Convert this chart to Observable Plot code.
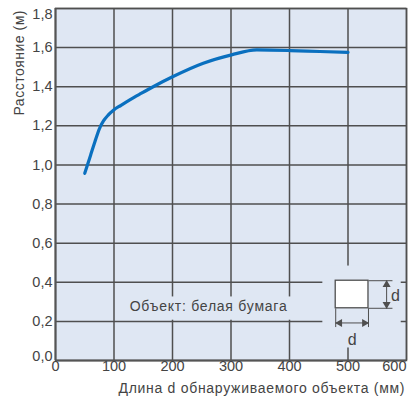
<!DOCTYPE html>
<html><head><meta charset="utf-8">
<script src="https://cdn.jsdelivr.net/npm/d3@7"></script>
<script src="https://cdn.jsdelivr.net/npm/@observablehq/plot@0.6"></script>
<style>body{margin:0;background:#fff}svg{display:block}</style>
</head><body><div id="chart"></div>
<script>
const lengthMm = [50, 60, 67.5, 75, 82, 90, 99, 112, 127, 147, 167, 201, 252.6, 301, 344, 401, 452, 500];
const distanceM = [0.957, 1.05, 1.12, 1.185, 1.225, 1.255, 1.28, 1.305, 1.333, 1.367, 1.40, 1.452, 1.52, 1.563, 1.588, 1.585, 1.58, 1.576];
const xTicks = [0, 100, 200, 300, 400, 500, 600];
const yTicks = [0, 0.2, 0.4, 0.6, 0.8, 1.0, 1.2, 1.4, 1.6, 1.8];
const xLabel = "Длина d обнаруживаемого объекта (мм)";
const yLabel = "Расстояние (м)";
const noteText = "Объект: белая бумага";
const dimLabel = "d";

const data = lengthMm.map((x, i) => ({x, y: distanceM[i]}));
const fmt = v => v.toFixed(1).replace(".", ",");
const bg = "#dfe7f3", grid = "#4f4f4f", ink = "#444";
const fs = 14.5;

// annotation geometry (data units)
const noteBox = {x1: 110, x2: 412, y1: 0.206, y2: 0.325};
const iconBox = {x1: 457, x2: 591, y1: 0.064, y2: 0.483};
const sq = {x1: 479, x2: 535, y1: 0.267, y2: 0.408};
const vArrowX = 566, extRight = 576, hArrowY = 0.192, extBottom = 0.171;

const chart = Plot.plot({
  width: 408, height: 401,
  marginLeft: 55, marginRight: 2, marginTop: 8, marginBottom: 41,
  x: {domain: [0, 600], axis: null},
  y: {domain: [0, 1.8], axis: null},
  style: {fontFamily: "Liberation Sans, Arial, sans-serif", fontSize: "14px", color: ink},
  marks: [
    Plot.frame({fill: bg}),
    Plot.ruleX(xTicks.slice(1), {stroke: grid, strokeWidth: 1.5}),
    Plot.ruleY(yTicks.slice(1), {stroke: grid, strokeWidth: 1.5}),
    Plot.rect([noteBox, iconBox], {x1: "x1", x2: "x2", y1: "y1", y2: "y2", fill: bg}),
    Plot.line(data, {x: "x", y: "y", stroke: "#0a70bf", strokeWidth: 3.2, curve: "monotone-x"}),
    Plot.text([noteText], {x: 261, y: 0.274, fill: ink, fontSize: 14}),
    // icon
    Plot.rect([sq], {x1: "x1", x2: "x2", y1: "y1", y2: "y2", fill: "white", stroke: grid, strokeWidth: 1.3}),
    Plot.link([
      {x1: sq.x2, y1: sq.y2, x2: extRight, y2: sq.y2},
      {x1: sq.x2, y1: sq.y1, x2: extRight, y2: sq.y1},
      {x1: sq.x1, y1: sq.y1, x2: sq.x1, y2: extBottom},
      {x1: sq.x2, y1: sq.y1, x2: sq.x2, y2: extBottom},
      {x1: vArrowX, y1: sq.y1, x2: vArrowX, y2: sq.y2},
      {x1: sq.x1, y1: hArrowY, x2: sq.x2, y2: hArrowY}
    ], {x1: "x1", y1: "y1", x2: "x2", y2: "y2", stroke: grid, strokeWidth: 1}),
    Plot.dot([{x: vArrowX, y: sq.y2}], {x: "x", y: "y", symbol: "triangle", r: 3, fill: grid, stroke: null, dy: 4}),
    Plot.dot([{x: vArrowX, y: sq.y1}], {x: "x", y: "y", symbol: "triangle", r: 3, fill: grid, stroke: null, dy: -4, rotate: 180}),
    Plot.dot([{x: sq.x1, y: hArrowY}], {x: "x", y: "y", symbol: "triangle", r: 3, fill: grid, stroke: null, dx: 4, rotate: -90}),
    Plot.dot([{x: sq.x2, y: hArrowY}], {x: "x", y: "y", symbol: "triangle", r: 3, fill: grid, stroke: null, dx: -4, rotate: 90}),
    Plot.text([dimLabel], {x: 581, y: 0.333, fill: ink, fontSize: 16}),
    Plot.text([dimLabel], {x: 507, y: 0.105, fill: ink, fontSize: 16}),
    // frame
    Plot.frame({stroke: grid, strokeWidth: 1.5}),
    Plot.ruleX([0], {stroke: "#555", strokeWidth: 2}),
    Plot.ruleY([0], {stroke: "#555", strokeWidth: 2}),
    // tick labels
    Plot.text(xTicks.slice(0, -1), {x: d => d, frameAnchor: "bottom", dy: 10, text: d => String(d), fill: ink, fontSize: fs}),
    Plot.text(xTicks.slice(-1), {x: d => d, frameAnchor: "bottom", dy: 10, textAnchor: "end", text: d => String(d), fill: ink, fontSize: fs}),
    Plot.text(yTicks.slice(1, -1), {y: d => d, frameAnchor: "left", dx: -3, textAnchor: "end", text: fmt, fill: ink, fontSize: fs}),
    Plot.text(yTicks.slice(0, 1), {y: d => d, frameAnchor: "left", dx: -3, dy: -4, textAnchor: "end", text: fmt, fill: ink, fontSize: fs}),
    Plot.text(yTicks.slice(-1), {y: d => d, frameAnchor: "left", dx: -3, dy: 6, textAnchor: "end", text: fmt, fill: ink, fontSize: fs}),
    // axis titles
    Plot.text([yLabel], {frameAnchor: "top-left", rotate: -90, textAnchor: "end", dx: -41, dy: 2, fill: ink, fontSize: 14}),
    Plot.text([xLabel], {frameAnchor: "bottom-right", textAnchor: "end", dx: -2, dy: 32, fill: ink, fontSize: 14})
  ]
});
// stretch the long labels to the widths they take in the reference
const targetWidths = new Map([[xLabel, 286], [yLabel, 105], [noteText, 157]]);
d3.select(chart).selectAll("text").each(function() {
  const w = targetWidths.get(this.textContent);
  if (w) d3.select(this).attr("textLength", w).attr("lengthAdjust", "spacing");
});
document.getElementById("chart").append(chart);
</script>
</body></html>
